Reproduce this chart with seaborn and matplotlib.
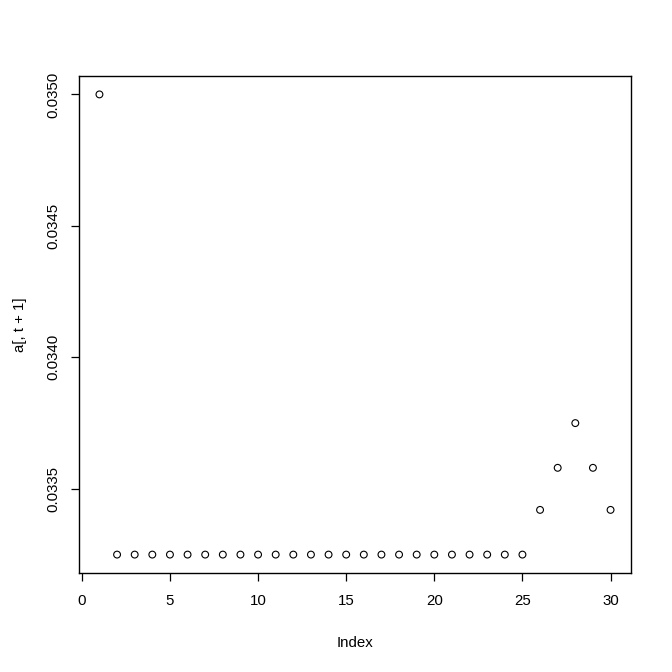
import matplotlib
matplotlib.use("Agg")
import matplotlib.pyplot as plt
import seaborn as sns
import numpy as np
import pandas as pd

# Data
index = list(range(1, 31))
values = [0.03500] + [0.03325] * 24 + [0.03342, 0.03358, 0.03375, 0.03358, 0.03342]
x_ticks = [0, 5, 10, 15, 20, 25, 30]
y_ticks = [0.0335, 0.0340, 0.0345, 0.0350]
y_tick_labels = ["0.0335", "0.0340", "0.0345", "0.0350"]

sns.set_style("white")
plt.rcParams['font.family'] = ['Liberation Sans', 'DejaVu Sans']

df = pd.DataFrame({"Index": index, "value": values})

fig = plt.figure(figsize=(6.72, 6.72), dpi=100)
ax = fig.add_axes([79/672, 1 - 573/672, (631 - 79)/672, (573 - 76)/672])

sns.scatterplot(data=df, x="Index", y="value", ax=ax, marker="o", s=24,
                facecolors="none", edgecolors="black", linewidths=0.8, legend=False)

xmin, xmax = min(index), max(index)
xr = (xmax - xmin) * 0.04
ax.set_xlim(xmin - xr, xmax + xr)
ymin, ymax = min(values), max(values)
yr = (ymax - ymin) * 0.04
ax.set_ylim(ymin - yr, ymax + yr)

ax.set_xticks(x_ticks)
ax.set_xticklabels([str(t) for t in x_ticks])
ax.set_yticks(y_ticks)
ax.set_yticklabels(y_tick_labels, rotation=90, va="center")

for sp in ax.spines.values():
    sp.set_visible(True)
    sp.set_color("black")
    sp.set_linewidth(1.0)

ax.tick_params(axis="both", direction="out", length=6, width=0.9, color="black",
               labelsize=10.8, labelcolor="black", bottom=True, left=True)
ax.tick_params(axis="x", pad=9)
ax.tick_params(axis="y", pad=7.5)

ax.set_xlabel("Index", fontsize=10.8, color="black", labelpad=20)
ax.set_ylabel("a[, t + 1]", fontsize=10.8, color="black", labelpad=14)

fig.savefig("out.png", dpi=100, facecolor="white")
